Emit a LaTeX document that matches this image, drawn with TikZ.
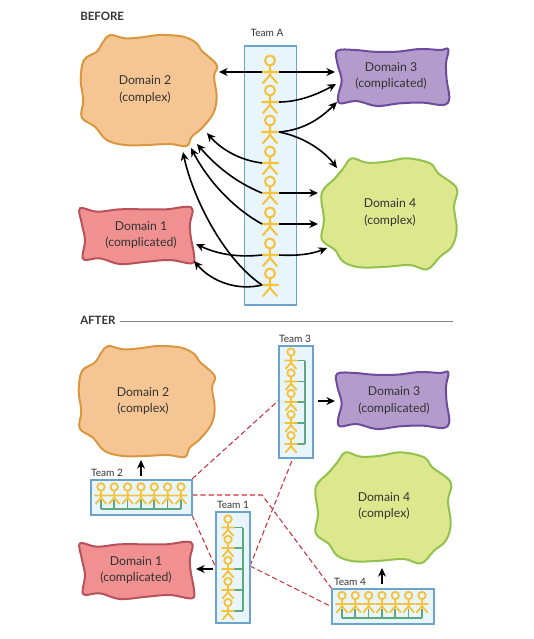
\documentclass[tikz,border=0pt]{standalone}
\usepackage{fontspec}
\setmainfont{Lato}
\usetikzlibrary{arrows.meta}
\definecolor{orfill}{HTML}{F5C594}\definecolor{ordraw}{HTML}{D9983F}
\definecolor{pufill}{HTML}{B39BCB}\definecolor{pudraw}{HTML}{6F4BA0}
\definecolor{grfill}{HTML}{DDE88E}\definecolor{grdraw}{HTML}{92C24C}
\definecolor{rdfill}{HTML}{F09090}\definecolor{rddraw}{HTML}{B8525A}
\definecolor{teamfill}{HTML}{E8F5FC}\definecolor{teamdraw}{HTML}{6BA3CC}
\definecolor{yel}{HTML}{F5C33B}\definecolor{grn}{HTML}{5FA77F}
\definecolor{dashred}{HTML}{C8333F}\definecolor{txt}{HTML}{333333}
\tikzset{
 x=0.75pt,y=-0.75pt,
 blobtwo/.pic={\path[pic actions] plot[smooth cycle,tension=.6] coordinates {(110,35) (125,38.3) (141.7,37.3) (160,35) (183.3,36.7) (196.7,43.3) (201.7,50.7) (216.7,65) (214,76.7) (216.7,96.7) (213.3,113.3) (201.7,128.3) (191.7,136.7) (186.7,146) (170,144) (146.7,145) (125,145) (106.7,140) (95,126.7) (81.7,117.3) (83.3,100) (80.7,80) (84,60) (96.7,51.7) (103.3,41.7)};},
 blobfour/.pic={\path[pic actions] plot[smooth cycle,tension=.6] coordinates {(351.7,158.3) (366.7,162.7) (386.7,161.7) (406.7,158.3) (430,163.3) (438.3,173.3) (456.7,188.3) (454,206.7) (456.7,230) (451.7,246.7) (440,256.7) (427.3,269.3) (410,265) (386.7,266.7) (360,267.3) (343.3,261.7) (335,250) (321.7,239.3) (324,220) (321.7,193.3) (335,178.3) (343.3,168.3)};},
 blobone/.pic={\path[pic actions] plot[smooth cycle,tension=.6] coordinates {(80,208.3) (96.7,211.7) (120,209.3) (143.3,209.3) (166.7,209.3) (186.7,206.7) (192.7,210) (190,223.3) (190.7,236.7) (194,255) (191.7,263.3) (170,260) (146.7,261.7) (120,264) (100,258.3) (85,260) (82.7,255) (85,240) (81.7,223.3)};},
 blobthree/.pic={\path[pic actions] plot[smooth cycle,tension=.6] coordinates {(337.3,50.7) (355,50) (373.3,51.7) (396.7,51.7) (420,49) (440,50) (448.3,49.3) (446,63.3) (446.7,80) (449.3,98.3) (443.3,105) (423.3,102.7) (400,103.3) (376.7,106) (356.7,101) (340,103.3) (338.3,95) (341.7,80) (337.3,63.3)};},
 person/.pic={\draw[yel,line width=1.55pt,line cap=round,line join=round] (0,-11.5) circle[radius=5] (0,-6.5)--(0,3) (-8,0)--(8,0) (-7,11)--(0,3)--(7,11);},
 smallperson/.pic={\draw[yel,line width=1.4pt,line cap=round,line join=round,scale=.74] (0,-11.5) circle[radius=5] (0,-6.5)--(0,3) (-8,0)--(8,0) (-7,11)--(0,3)--(7,11);},
 domtext/.style={align=center,text=txt,font=\fontsize{9.2}{12.4}\selectfont,inner sep=0pt},
 teamtext/.style={text=txt,font=\fontsize{7.6}{9}\selectfont,inner sep=0pt},
 head/.style={text=txt,font=\bfseries\fontsize{8.6}{10}\selectfont,inner sep=0pt,anchor=west},
 teambox/.style={draw=teamdraw,fill=teamfill,line width=1.5pt,inner sep=0pt},
 arr/.style={black,line width=1.2pt,-{Stealth[length=6.5pt,width=6pt]}},
 link/.style={dashred,line width=.8pt,dash pattern=on 4pt off 2.2pt},
 grline/.style={grn,line width=1.3pt,line join=miter},
}
\begin{document}
\begin{tikzpicture}
\useasboundingbox (0,0) rectangle (534,639);
\node[head] (before) at (80,16) {BEFORE};
\node[head] (after) at (80,320) {AFTER};
\coordinate (ruleend) at (453,321);
\draw[gray,line width=.5pt] (after.east)+(4,1) -- (ruleend);
% BEFORE domains
\pic[draw=ordraw,fill=orfill,line width=1.5pt] at (0,0) {blobtwo};
\pic[draw=pudraw,fill=pufill,line width=1.5pt] at (0,0) {blobthree};
\pic[draw=grdraw,fill=grfill,line width=1.5pt] at (0,0) {blobfour};
\pic[draw=rddraw,fill=rdfill,line width=1.5pt] at (0,0) {blobone};
\node[domtext] (d2a) at (145,89.5) {Domain 2\\(complex)};
\node[domtext] (d3a) at (391,76) {Domain 3\\(complicated)};
\node[domtext] (d4a) at (390,212.5) {Domain 4\\(complex)};
\node[domtext] (d1a) at (141,235) {Domain 1\\(complicated)};
% Team A
\node[teambox,line width=1.3pt,minimum width=39pt,minimum height=194.5pt] (teamA) at (270.5,175.5) {};
\node[teamtext] (teamAl) at (267,33) {Team A};
\foreach \i/\y in {1/72,2/102,3/132,4/163,5/193,6/224,7/255,8/285}{
 \pic at (270,\y) {person};
 \coordinate (l\i) at (262,\y);
 \coordinate (r\i) at (279,\y);
}
\coordinate (t2l) at (219,72);
\coordinate (t3a) at (335,72);
\coordinate (t3b) at (336,84);
\coordinate (t3c) at (337,102);
\coordinate (t4a) at (337,168);
\coordinate (t4b) at (318,193);
\coordinate (t4c) at (318,224);
\coordinate (t4d) at (327,248);
\coordinate (t2a) at (207,133);
\coordinate (t2b) at (197,144);
\coordinate (t2c) at (191,148);
\coordinate (t2d) at (183,152);
\coordinate (t1a) at (196,244);
\coordinate (t1b) at (194,261);
\draw[arr] (l1) -- (t2l);
\draw[arr] (r1) -- (t3a);
\draw[arr] (r2) .. controls (300,102) and (320,93) .. (t3b);
\draw[arr] (r3) .. controls (305,130) and (322,117) .. (t3c);
\draw[arr] (r3) .. controls (305,137) and (325,152) .. (t4a);
\draw[arr] (r5) -- (t4b);
\draw[arr] (r6) -- (t4c);
\draw[arr] (r7) .. controls (298,256) and (312,254) .. (t4d);
\draw[arr] (l4) .. controls (238,160) and (220,148) .. (t2a);
\draw[arr] (l5) .. controls (235,182) and (215,165) .. (t2b);
\draw[arr] (l6) .. controls (228,205) and (205,175) .. (t2c);
\draw[arr] (l8) .. controls (222,258) and (192,195) .. (t2d);
\draw[arr] (l7) .. controls (235,258) and (215,253) .. (t1a);
\draw[arr] (l8) .. controls (238,291) and (212,282) .. (t1b);
% AFTER domains
\pic[draw=ordraw,fill=orfill,line width=1.5pt] at (-2,311) {blobtwo};
\pic[draw=pudraw,fill=pufill,line width=1.5pt] at (0,323) {blobthree};
\pic[draw=grdraw,fill=grfill,line width=1.5pt] at (-6,294) {blobfour};
\pic[draw=rddraw,fill=rdfill,line width=1.5pt] at (0,335) {blobone};
\node[domtext] (d2b) at (143,401) {Domain 2\\(complex)};
\node[domtext] (d3b) at (394,400.5) {Domain 3\\(complicated)};
\node[domtext] (d4b) at (384,506) {Domain 4\\(complex)};
\node[domtext] (d1b) at (136,570) {Domain 1\\(complicated)};
% AFTER teams: dashed links first, boxes on top
\coordinate (bend) at (262,495);
\coordinate (t2side) at (192,495);
\coordinate (t4low) at (332,607);
\coordinate (t3low) at (293,458);
\coordinate (t3side) at (279,400);
\coordinate (t1low) at (216,568);
\coordinate (t1side) at (250,566);
\coordinate (t4top) at (332,589);
\coordinate (t2top) at (192,479);
\coordinate (t2bot) at (192,515);
\draw[link] (t2top) -- (t3side);
\draw[link] (t2side) -- (bend) -- (t4top);
\draw[link] (t2bot) -- (t1low);
\draw[link] (t1side) -- (t3low);
\draw[link] (t1side) -- (t4low);
\node[teambox,minimum width=25.5pt,minimum height=84pt] (team3) at (296,402) {};
\node[teambox,minimum width=25.5pt,minimum height=83.5pt] (team1) at (233,567.5) {};
\node[teambox,minimum width=76pt,minimum height=26pt] (team2) at (141.5,497.5) {};
\node[teambox,minimum width=76.5pt,minimum height=26pt] (team4) at (383,606.5) {};
\node[teamtext] (team3l) at (295,339) {Team 3};
\node[teamtext] (team1l) at (233,505) {Team 1};
\node[teamtext] (team2l) at (107,473) {Team 2};
\node[teamtext] (team4l) at (350,582) {Team 4};
\draw[grline] (243,527.5) -- (243,611) (230,527.5)--(243,527.5) (230,548)--(243,548) (230,569)--(243,569) (230,590)--(243,590) (230,611)--(243,611);
\draw[grline] (305,360.5) -- (305,444) (293,360.5)--(305,360.5) (293,381.5)--(305,381.5) (293,402)--(305,402) (293,423)--(305,423) (293,444)--(305,444);
\draw[grline] (101,509) -- (181,509);
\foreach \x in {101,114.3,127.6,141,154.3,167.6,181}{ \draw[grline] (\x,500)--(\x,509); \pic at (\x,495.5) {smallperson};}
\draw[grline] (342,618) -- (422,618);
\foreach \x in {342,355.3,368.6,382,395.3,408.6,422}{ \draw[grline] (\x,609)--(\x,618); \pic at (\x,604) {smallperson};}
\foreach \y in {527.5,548,569,590,611}{ \pic at (228,\y) {smallperson};}
\foreach \y in {360.5,381.5,402,423,444}{ \pic at (291,\y) {smallperson};}
% after arrows
\coordinate (a3s) at (318,401); \coordinate (a3e) at (335,401);
\coordinate (a2s) at (141,476); \coordinate (a2e) at (141,460);
\coordinate (a1s) at (213,569); \coordinate (a1e) at (196,569);
\coordinate (a4s) at (382,584); \coordinate (a4e) at (382,568);
\draw[arr] (a3s) -- (a3e);
\draw[arr] (a2s) -- (a2e);
\draw[arr] (a1s) -- (a1e);
\draw[arr] (a4s) -- (a4e);
\end{tikzpicture}
\end{document}
